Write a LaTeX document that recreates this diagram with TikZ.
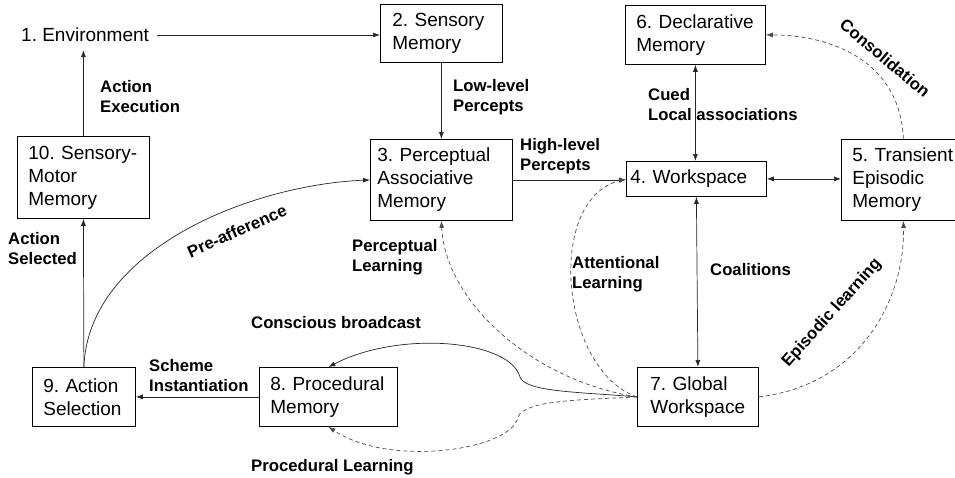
\documentclass[tikz,border=0pt]{standalone}
\usepackage{fontspec}
\setmainfont{Liberation Sans}
\usetikzlibrary{arrows.meta}
\newcommand{\boxfont}{\fontsize{19}{23}\selectfont\hyphenpenalty=10000\exhyphenpenalty=10000}
\newcommand{\lblfont}{\fontsize{16.7}{20}\selectfont\bfseries}

\begin{document}
\begin{tikzpicture}[x=1pt, y=-1pt,
  mbox/.style={draw, line width=0.8pt, anchor=north west, align=left, inner ysep=0pt, font=\boxfont},
  lbl/.style={inner sep=0pt, align=left, anchor=west, font=\lblfont},
  arr/.style={-{Latex[length=7pt,width=5pt]}, line width=0.7pt, draw=black!85},
  dasharr/.style={arr, dash pattern=on 4pt off 3pt, draw=black!70}]
  \useasboundingbox (0,0) rectangle (955,477);
  \clip (0,0) rectangle (955,477);

  % modules
  \node[inner sep=8pt, anchor=west, font=\boxfont] (env) at (13,35) {1.~Environment};
  \node[mbox, inner xsep=12pt, text width=98pt, minimum height=58pt] (sens) at (380,4) {2.~Sensory\\Memory};
  \node[mbox, inner xsep=7pt, text width=128pt, minimum height=81pt] (pam) at (370,139) {3.~Perceptual\\Associative\\Memory};
  \node[mbox, inner xsep=4pt, text width=132pt, minimum height=35pt] (ws) at (626,161) {4.~Workspace};
  \node[mbox, inner xsep=11pt, text width=102pt, minimum height=81pt] (tem) at (841,139) {5.~Transient\\Episodic\\Memory};
  \node[mbox, inner xsep=11pt, text width=118pt, minimum height=59pt] (dm) at (625,5) {6.~Declarative\\Memory};
  \node[mbox, inner xsep=13pt, text width=95pt, minimum height=59pt] (gw) at (637,367) {7.~Global\\Workspace};
  \node[mbox, inner xsep=11pt, text width=116pt, minimum height=59pt] (pm) at (259,367) {8.~Procedural\\Memory};
  \node[mbox, inner xsep=11pt, text width=81pt, minimum height=59pt] (as) at (32,367) {9.~Action\\Selection};
  \node[mbox, inner xsep=11pt, text width=110pt, minimum height=82pt] (smm) at (17,136) {10.~Sensory-\\Motor\\Memory};

  % straight connectors
  \draw[arr] (env) -- (env -| sens.west);
  \draw[arr] (sens.south) -- (pam.north);
  \draw[arr] (smm.north) -- (smm.north |- env.south);
  \draw[arr] (as.north) -- (smm.south);
  \draw[arr] (pam.east) -- (pam.east -| ws.west);
  \draw[arr, {Latex[length=7pt,width=5pt]}-{Latex[length=7pt,width=5pt]}] (dm.south) -- (dm.south |- ws.north);
  \draw[arr, {Latex[length=7pt,width=5pt]}-{Latex[length=7pt,width=5pt]}] (ws.east) -- (ws.east -| tem.west);
  \draw[arr, {Latex[length=7pt,width=5pt]}-{Latex[length=7pt,width=5pt]}] (ws.south) -- (gw.north);
  \draw[arr] (pm.west) -- (as.east);

  % curved connectors
  \draw[arr] (as.north) .. controls (88,250) and (250,185) .. (pam.west);
  \draw[arr] (gw.west) .. controls (580,392) and (525,392) .. (520,377)
    .. controls (510,340) and (400,330) .. (pm.north);
  \draw[dasharr] (gw.west) .. controls (580,400) and (525,400) .. (518,417)
    .. controls (512,450) and (390,468) .. (pm.south);
  \draw[dasharr] (gw.west) .. controls (530,380) and (445,300) .. (pam.south);
  \draw[dasharr] (gw.west) .. controls (560,370) and (545,200) .. (ws.west);
  \draw[dasharr] (gw.east) .. controls (860,385) and (905,300) .. (tem.south);
  \draw[dasharr] (tem.north) .. controls (900,60) and (830,35) .. (dm.east);

  % labels
  \node[lbl] (l-exec) at (100,97) {Action\\Execution};
  \node[lbl] (l-low) at (453,97) {Low-level\\Percepts};
  \node[lbl] (l-high) at (520,156) {High-level\\Percepts};
  \node[lbl] (l-cued) at (648,105) {Cued\\Local associations};
  \node[lbl] (l-perc) at (352,257) {Perceptual\\Learning};
  \node[lbl] (l-att) at (572,274) {Attentional\\Learning};
  \node[lbl] (l-coal) at (710,270) {Coalitions};
  \node[lbl] (l-sel) at (8,249) {Action\\Selected};
  \node[lbl] (l-consc) at (251,323) {Conscious broadcast};
  \node[lbl] (l-scheme) at (149,376) {Scheme\\Instantiation};
  \node[lbl] (l-proc) at (251,467) {Procedural Learning};
  \node[lbl, anchor=center, rotate=24] (l-pre) at (237,231) {Pre-afference};
  \node[lbl, anchor=center, rotate=-40] (l-cons) at (885,58) {Consolidation};
  \node[lbl, anchor=center, rotate=48] (l-epis) at (832,313) {Episodic learning};
\end{tikzpicture}
\end{document}
